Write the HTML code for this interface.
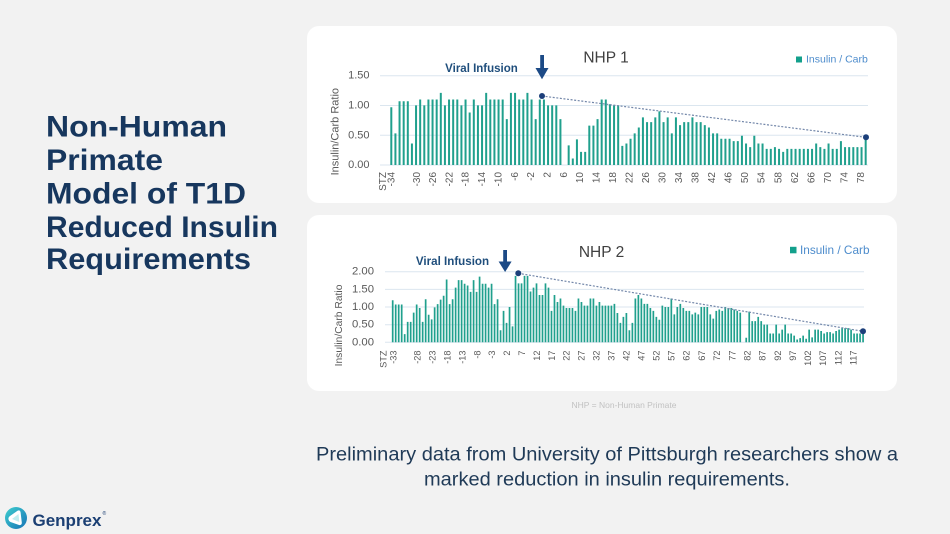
<!DOCTYPE html>
<html><head><meta charset="utf-8"><style>
html,body{margin:0;padding:0;background:#f2f2f2;}
svg{display:block;font-family:"Liberation Sans",Arial,sans-serif;}
</style></head><body>
<svg width="950" height="534" viewBox="0 0 950 534" xmlns="http://www.w3.org/2000/svg">
<defs>
<linearGradient id="lg" x1="0" y1="0" x2="1" y2="1"><stop offset="0" stop-color="#3fcfcf"/><stop offset="1" stop-color="#1672b5"/></linearGradient>
</defs>
<rect width="950" height="534" fill="#f2f2f2"/>

<!-- Title -->
<g fill="#17375e" font-weight="bold" font-size="30">
<text x="46" y="136.5" textLength="181" lengthAdjust="spacingAndGlyphs">Non-Human</text>
<text x="46" y="170" textLength="117" lengthAdjust="spacingAndGlyphs">Primate</text>
<text x="46" y="203.5" textLength="200" lengthAdjust="spacingAndGlyphs">Model of T1D</text>
<text x="46" y="237" textLength="232" lengthAdjust="spacingAndGlyphs">Reduced Insulin</text>
<text x="46" y="269" textLength="205" lengthAdjust="spacingAndGlyphs">Requirements</text>
</g>

<!-- Card 1 -->
<rect x="307" y="26" width="590" height="177" rx="12" fill="#ffffff"/>
<g stroke="#dbe6ef" stroke-width="1">
<line x1="380" y1="75.7" x2="868" y2="75.7"/>
<line x1="380" y1="105.5" x2="868" y2="105.5"/>
<line x1="380" y1="135.3" x2="868" y2="135.3"/>
<line x1="380" y1="165" x2="868" y2="165"/>
</g>
<g fill="#595959" font-size="11" text-anchor="end" dominant-baseline="central">
<text x="369.5" y="75.7">1.50</text>
<text x="369.5" y="105.5">1.00</text>
<text x="369.5" y="135.3">0.50</text>
<text x="369.5" y="165">0.00</text>
</g>
<text transform="translate(335.5,131.7) rotate(-90)" text-anchor="middle" dominant-baseline="central" font-size="11" fill="#595959">Insulin/Carb Ratio</text>
<path transform="translate(391.3,165) scale(1,-59.6)" fill="none" stroke="#20a08d" stroke-width="2" d="M0 0v.97m4.125-.97v.53m4.125-.53v1.07m4.125-1.07v1.07m4.125-1.07v1.07m4.125-1.07v.36m4.125-.36v1m4.125-1v1.1m4.125-1.1v1m4.125-1v1.1m4.125-1.1v1.1m4.125-1.1v1.1m4.125-1.1v1.21m4.125-1.21v1m4.125-1v1.1m4.125-1.1v1.1m4.125-1.1v1.1m4.125-1.1v1m4.125-1v1.1m4.125-1.1v.88m4.125-.88v1.1m4.125-1.1v1m4.125-1v1m4.125-1v1.21m4.125-1.21v1.1m4.125-1.1v1.1m4.125-1.1v1.1m4.125-1.1v1.1m4.125-1.1v.77m4.125-.77v1.21m4.125-1.21v1.21m4.125-1.21v1.1m4.125-1.1v1.1m4.125-1.1v1.21m4.125-1.21v1.1m4.125-1.1v.77m4.125-.77v1.1m4.125-1.1v1.1m4.125-1.1v1m4.125-1v1m4.125-1v1m4.125-1v.77m4.125-.77m4.125 0v.33m4.125-.33v.11m4.125-.11v.43m4.125-.43v.22m4.125-.22v.22m4.125-.22v.66m4.125-.66v.66m4.125-.66v.77m4.125-.77v1.1m4.125-1.1v1.1m4.125-1.1v1.02m4.125-1.02v1m4.125-1v1m4.125-1v.32m4.125-.32v.36m4.125-.36v.44m4.125-.44v.53m4.125-.53v.63m4.125-.63v.8m4.125-.8v.72m4.125-.72v.72m4.125-.72v.8m4.125-.8v.9m4.125-.9v.72m4.125-.72v.8m4.125-.8v.53m4.125-.53v.8m4.125-.8v.67m4.125-.67v.72m4.125-.72v.72m4.125-.72v.8m4.125-.8v.72m4.125-.72v.72m4.125-.72v.67m4.125-.67v.63m4.125-.63v.53m4.125-.53v.53m4.125-.53v.44m4.125-.44v.44m4.125-.44v.44m4.125-.44v.4m4.125-.4v.4m4.125-.4v.49m4.125-.49v.36m4.125-.36v.3m4.125-.3v.49m4.125-.49v.36m4.125-.36v.36m4.125-.36v.27m4.125-.27v.27m4.125-.27v.3m4.125-.3v.27m4.125-.27v.22m4.125-.22v.27m4.125-.27v.27m4.125-.27v.27m4.125-.27v.27m4.125-.27v.27m4.125-.27v.27m4.125-.27v.27m4.125-.27v.36m4.125-.36v.3m4.125-.3v.27m4.125-.27v.36m4.125-.36v.27m4.125-.27v.27m4.125-.27v.4m4.125-.4v.3m4.125-.3v.3m4.125-.3v.3m4.125-.3v.3m4.125-.3v.3m4.125-.3v.45"/>
<line x1="542" y1="96" x2="865.5" y2="137.3" stroke="#7488aa" stroke-width="1.2" stroke-dasharray="2 1.6"/>
<circle cx="542" cy="96" r="3" fill="#1c3f7a"/>
<circle cx="866" cy="137.3" r="3" fill="#1c3f7a"/>
<rect x="540.2" y="55" width="3.8" height="14" fill="#1c4a86"/>
<polygon points="535.5,68 548.5,68 542,79.3" fill="#1c4a86"/>
<text x="481.5" y="69" text-anchor="middle" dominant-baseline="central" font-size="11.5" font-weight="bold" fill="#1f4e7c">Viral Infusion</text>
<text x="606" y="58" text-anchor="middle" dominant-baseline="central" font-size="15.5" fill="#404040">NHP 1</text>
<rect x="796" y="56.5" width="6" height="6" fill="#13a08c"/>
<text x="806" y="59.5" dominant-baseline="central" font-size="10.5" fill="#4d8ccc">Insulin / Carb</text>
<g fill="#595959" font-size="10" text-anchor="end" dominant-baseline="central">
<text transform="translate(383.7,172) rotate(-90)">STZ</text>
<text transform="translate(392,172) rotate(-90)">-34</text>
<text transform="translate(417.3,172) rotate(-90)">-30</text>
<text transform="translate(433.6,172) rotate(-90)">-26</text>
<text transform="translate(449.9,172) rotate(-90)">-22</text>
<text transform="translate(466.2,172) rotate(-90)">-18</text>
<text transform="translate(482.6,172) rotate(-90)">-14</text>
<text transform="translate(498.9,172) rotate(-90)">-10</text>
<text transform="translate(515.3,172) rotate(-90)">-6</text>
<text transform="translate(531.6,172) rotate(-90)">-2</text>
<text transform="translate(548,172) rotate(-90)">2</text>
<text transform="translate(564.3,172) rotate(-90)">6</text>
<text transform="translate(580.7,172) rotate(-90)">10</text>
<text transform="translate(597.1,172) rotate(-90)">14</text>
<text transform="translate(613.5,172) rotate(-90)">18</text>
<text transform="translate(630,172) rotate(-90)">22</text>
<text transform="translate(646.4,172) rotate(-90)">26</text>
<text transform="translate(662.9,172) rotate(-90)">30</text>
<text transform="translate(679.4,172) rotate(-90)">34</text>
<text transform="translate(695.9,172) rotate(-90)">38</text>
<text transform="translate(712.5,172) rotate(-90)">42</text>
<text transform="translate(729,172) rotate(-90)">46</text>
<text transform="translate(745.6,172) rotate(-90)">50</text>
<text transform="translate(762.2,172) rotate(-90)">54</text>
<text transform="translate(778.8,172) rotate(-90)">58</text>
<text transform="translate(795.4,172) rotate(-90)">62</text>
<text transform="translate(812,172) rotate(-90)">66</text>
<text transform="translate(828.6,172) rotate(-90)">70</text>
<text transform="translate(845.2,172) rotate(-90)">74</text>
<text transform="translate(861.7,172) rotate(-90)">78</text>
</g>

<!-- Card 2 -->
<rect x="307" y="215" width="590" height="176" rx="12" fill="#ffffff"/>
<g stroke="#dbe6ef" stroke-width="1">
<line x1="385" y1="271.7" x2="864" y2="271.7"/>
<line x1="385" y1="289.4" x2="864" y2="289.4"/>
<line x1="385" y1="307" x2="864" y2="307"/>
<line x1="385" y1="324.7" x2="864" y2="324.7"/>
<line x1="385" y1="342.3" x2="864" y2="342.3"/>
</g>
<g fill="#595959" font-size="11.3" text-anchor="end" dominant-baseline="central">
<text x="374" y="271.7">2.00</text>
<text x="374" y="289.4">1.50</text>
<text x="374" y="307">1.00</text>
<text x="374" y="324.7">0.50</text>
<text x="374" y="342.3">0.00</text>
</g>
<text transform="translate(339.5,325.5) rotate(-90)" text-anchor="middle" dominant-baseline="central" font-size="10.3" fill="#595959">Insulin/Carb Ratio</text>
<path transform="translate(392.7,342.3) scale(1,-35.3)" fill="none" stroke="#20a08d" stroke-width="1.7" d="M0 0v1.19m2.996-1.19v1.07m2.996-1.07v1.07m2.996-1.07v1.07m2.996-1.07v.23m2.996-.23v.58m2.996-.58v.58m2.996-.58v.84m2.996-.84v1.07m2.996-1.07v.97m2.996-.97v.58m2.996-.58v1.22m2.996-1.22v.78m2.996-.78v.65m2.996-.65v.99m2.996-.99v1.08m2.996-1.08v1.21m2.996-1.21v1.32m2.996-1.32v1.78m2.996-1.78v1.08m2.996-1.08v1.22m2.996-1.22v1.55m2.996-1.55v1.76m2.996-1.76v1.76m2.996-1.76v1.66m2.996-1.66v1.61m2.996-1.61v1.43m2.996-1.43v1.76m2.996-1.76v1.43m2.996-1.43v1.86m2.996-1.86v1.66m2.996-1.66v1.66m2.996-1.66v1.55m2.996-1.55v1.66m2.996-1.66v1.08m2.996-1.08v1.22m2.996-1.22v.34m2.996-.34v.89m2.996-.89v.55m2.996-.55v1m2.996-1v.45m2.996-.45v1.88m2.996-1.88v1.67m2.996-1.67v1.67m2.996-1.67v1.88m2.996-1.88v1.88m2.996-1.88v1.44m2.996-1.44v1.55m2.996-1.55v1.67m2.996-1.67v1.34m2.996-1.34v1.34m2.996-1.34v1.67m2.996-1.67v1.55m2.996-1.55v.89m2.996-.89v1.34m2.996-1.34v1.14m2.996-1.14v1.24m2.996-1.24v1.04m2.996-1.04v.97m2.996-.97v.97m2.996-.97v.97m2.996-.97v.89m2.996-.89v1.24m2.996-1.24v1.14m2.996-1.14v1.04m2.996-1.04v1.04m2.996-1.04v1.24m2.996-1.24v1.24m2.996-1.24v1.04m2.996-1.04v1.14m2.996-1.14v1.04m2.996-1.04v1.04m2.996-1.04v1.04m2.996-1.04v1.04m2.996-1.04v1.09m2.996-1.09v.83m2.996-.83v.55m2.996-.55v.72m2.996-.72v.83m2.996-.83v.34m2.996-.34v.55m2.996-.55v1.24m2.996-1.24v1.34m2.996-1.34v1.24m2.996-1.24v1.09m2.996-1.09v1.09m2.996-1.09v.97m2.996-.97v.89m2.996-.89v.72m2.996-.72v.64m2.996-.64v1.04m2.996-1.04v1m2.996-1v1m2.996-1v1.24m2.996-1.24v.79m2.996-.79v1m2.996-1v1.09m2.996-1.09v.97m2.996-.97v.89m2.996-.89v.89m2.996-.89v.79m2.996-.79v.84m2.996-.84v.79m2.996-.79v1m2.996-1v1m2.996-1v1m2.996-1v.79m2.996-.79v.67m2.996-.67v.89m2.996-.89v.93m2.996-.93v.89m2.996-.89v1m2.996-1v.97m2.996-.97v.97m2.996-.97v.93m2.996-.93v.89m2.996-.89v.84m2.996-.84m2.996 0v.13m2.996-.13v.87m2.996-.87v.6m2.996-.6v.6m2.996-.6v.72m2.996-.72v.6m2.996-.6v.5m2.996-.5v.5m2.996-.5v.25m2.996-.25v.25m2.996-.25v.5m2.996-.5v.25m2.996-.25v.36m2.996-.36v.5m2.996-.5v.25m2.996-.25v.25m2.996-.25v.19m2.996-.19v.08m2.996-.08v.12m2.996-.12v.19m2.996-.19v.1m2.996-.1v.36m2.996-.36v.14m2.996-.14v.36m2.996-.36v.36m2.996-.36v.32m2.996-.32v.25m2.996-.25v.29m2.996-.29v.29m2.996-.29v.25m2.996-.25v.32m2.996-.32v.36m2.996-.36v.4m2.996-.4v.4m2.996-.4v.4m2.996-.4v.36m2.996-.36v.25m2.996-.25v.25m2.996-.25v.25m2.996-.25v.32"/>
<line x1="518.3" y1="273.3" x2="863" y2="331.3" stroke="#7488aa" stroke-width="1.2" stroke-dasharray="2 1.6"/>
<circle cx="518.3" cy="273.3" r="3" fill="#1c3f7a"/>
<circle cx="863" cy="331.3" r="3" fill="#1c3f7a"/>
<rect x="503.2" y="250" width="3.8" height="12.5" fill="#1c4a86"/>
<polygon points="498.6,261.5 511.6,261.5 505.1,272" fill="#1c4a86"/>
<text x="452.5" y="261.7" text-anchor="middle" dominant-baseline="central" font-size="11.6" font-weight="bold" fill="#1f4e7c">Viral Infusion</text>
<text x="601.5" y="252.7" text-anchor="middle" dominant-baseline="central" font-size="15.5" fill="#404040">NHP 2</text>
<rect x="790" y="246.8" width="6.5" height="6.5" fill="#13a08c"/>
<text x="800" y="250" dominant-baseline="central" font-size="11.8" fill="#4d8ccc">Insulin / Carb</text>
<g fill="#595959" font-size="9.2" text-anchor="end" dominant-baseline="central">
<text transform="translate(383.7,350.5) rotate(-90)">STZ</text>
<text transform="translate(393.7,350.5) rotate(-90)">-33</text>
<text transform="translate(417.7,350.5) rotate(-90)">-28</text>
<text transform="translate(432.6,350.5) rotate(-90)">-23</text>
<text transform="translate(447.5,350.5) rotate(-90)">-18</text>
<text transform="translate(462.4,350.5) rotate(-90)">-13</text>
<text transform="translate(477.3,350.5) rotate(-90)">-8</text>
<text transform="translate(492.2,350.5) rotate(-90)">-3</text>
<text transform="translate(507.1,350.5) rotate(-90)">2</text>
<text transform="translate(522,350.5) rotate(-90)">7</text>
<text transform="translate(536.9,350.5) rotate(-90)">12</text>
<text transform="translate(551.8,350.5) rotate(-90)">17</text>
<text transform="translate(566.7,350.5) rotate(-90)">22</text>
<text transform="translate(581.6,350.5) rotate(-90)">27</text>
<text transform="translate(596.5,350.5) rotate(-90)">32</text>
<text transform="translate(611.5,350.5) rotate(-90)">37</text>
<text transform="translate(626.5,350.5) rotate(-90)">42</text>
<text transform="translate(641.5,350.5) rotate(-90)">47</text>
<text transform="translate(656.5,350.5) rotate(-90)">52</text>
<text transform="translate(671.5,350.5) rotate(-90)">57</text>
<text transform="translate(686.7,350.5) rotate(-90)">62</text>
<text transform="translate(701.9,350.5) rotate(-90)">67</text>
<text transform="translate(717.1,350.5) rotate(-90)">72</text>
<text transform="translate(732.3,350.5) rotate(-90)">77</text>
<text transform="translate(747.5,350.5) rotate(-90)">82</text>
<text transform="translate(762.7,350.5) rotate(-90)">87</text>
<text transform="translate(777.9,350.5) rotate(-90)">92</text>
<text transform="translate(793,350.5) rotate(-90)">97</text>
<text transform="translate(808.1,350.5) rotate(-90)">102</text>
<text transform="translate(823.2,350.5) rotate(-90)">107</text>
<text transform="translate(838.3,350.5) rotate(-90)">112</text>
<text transform="translate(853.3,350.5) rotate(-90)">117</text>
</g>

<!-- Footnote -->
<text x="624" y="405" text-anchor="middle" dominant-baseline="central" font-size="8.5" fill="#c2c2c2">NHP = Non-Human Primate</text>

<!-- Bottom text -->
<g fill="#1f3a57" font-size="19" text-anchor="middle" dominant-baseline="central">
<text x="607" y="455" textLength="582" lengthAdjust="spacingAndGlyphs">Preliminary data from University of Pittsburgh researchers show a</text>
<text x="607" y="480" textLength="366" lengthAdjust="spacingAndGlyphs">marked reduction in insulin requirements.</text>
</g>

<!-- Logo -->
<circle cx="16" cy="518" r="11" fill="url(#lg)"/>
<path d="M8.5 519.5 Q8 517.5 10 516 L17.5 510.8 Q20 509.5 20.6 512.5 L21.8 522.5 Q22 525.5 19 525 L10.5 522 Q8.8 521.2 8.5 519.5 Z" fill="#ffffff"/>
<path d="M12 519 L18.5 514 L19.3 522 Z" fill="#bfeef0"/>
<text x="32.5" y="526" font-size="17" font-weight="bold" fill="#1b3f73">Genprex</text>
<text x="102.5" y="515" font-size="5" fill="#1b3f73">®</text>
</svg>
</body></html>
